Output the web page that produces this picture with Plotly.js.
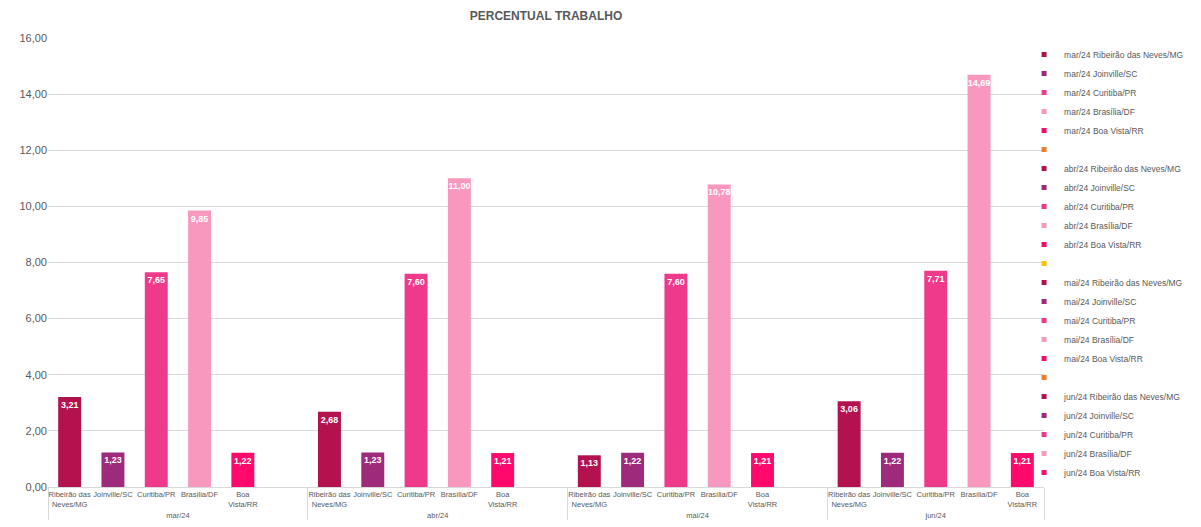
<!DOCTYPE html>
<html>
<head>
<meta charset="utf-8">
<script src="https://cdn.plot.ly/plotly-3.0.1.min.js"></script>
<style>html,body{margin:0;padding:0;background:#fff}#chart{width:1201px;height:527px}</style>
</head>
<body>
<div id="chart"></div>
<script>
var months = ["mar/24", "abr/24", "mai/24", "jun/24"];
var cities = ["Ribeirão das Neves/MG", "Joinville/SC", "Curitiba/PR", "Brasília/DF", "Boa Vista/RR"];
var cityTicks = ["Ribeirão das<br>Neves/MG", "Joinville/SC", "Curitiba/PR", "Brasília/DF", "Boa<br>Vista/RR"];
var mar24 = [3.21, 1.23, 7.65, 9.85, 1.22];
var abr24 = [2.68, 1.23, 7.60, 11.00, 1.21];
var mai24 = [1.13, 1.22, 7.60, 10.78, 1.21];
var jun24 = [3.06, 1.22, 7.71, 14.69, 1.21];
var values = [mar24, abr24, mai24, jun24];
var cityColors = ["#B3124F", "#9E2A7C", "#EF3A8B", "#F898BE", "#FF0A6C"];
var blankColors = ["#ED7D31", "#FFC000", "#ED7D31"];
var blankTick = " ";

var FONT = "'Liberation Sans Narrow', 'Arial Narrow', 'Liberation Sans', Arial, sans-serif";
var bars = [];
var legendItems = [];
function addLegend(name, color) {
  legendItems.push({
    type: "scatter",
    mode: "markers",
    name: name,
    xaxis: "x2",
    yaxis: "y",
    x: [0],
    y: [null],
    marker: { symbol: "square", size: 5, color: color },
    hoverinfo: "skip"
  });
}
months.forEach(function (m, mi) {
  cities.forEach(function (c, ci) {
    bars.push({
      type: "bar",
      name: m + " " + c,
      showlegend: false,
      x: [[m], [cityTicks[ci]]],
      y: [values[mi][ci]],
      width: 0.53,
      marker: { color: cityColors[ci] },
      texttemplate: "%{y:.2f}",
      textposition: "inside",
      insidetextanchor: "end",
      textangle: 0,
      constraintext: "none",
      textfont: { color: "#ffffff", size: 9, family: "'Liberation Sans', Arial, sans-serif", weight: "bold" },
      hoverinfo: "name+y"
    });
    addLegend(m + " " + c, cityColors[ci]);
  });
  if (mi < blankColors.length) {
    bars.push({
      type: "bar",
      name: "",
      showlegend: false,
      x: [[m], [blankTick]],
      y: [null],
      width: 0.53,
      marker: { color: blankColors[mi] },
      hoverinfo: "skip"
    });
    addLegend("", blankColors[mi]);
  }
});

var layout = {
  width: 1201,
  height: 527,
  paper_bgcolor: "#ffffff",
  plot_bgcolor: "#ffffff",
  separators: ",.",
  barmode: "overlay",
  margin: { l: 48, r: 153, t: 38, b: 40 },
  title: {
    text: "<b>PERCENTUAL TRABALHO</b>",
    font: { family: "'Liberation Sans', Arial, sans-serif", size: 12, color: "#595959" },
    x: 0.5, xref: "paper", xanchor: "center",
    y: 0.9696, yref: "container", yanchor: "middle"
  },
  xaxis: {
    type: "multicategory",
    color: "#595959",
    showline: true,
    linecolor: "#D9D9D9",
    linewidth: 1,
    ticks: "",
    tickangle: 0,
    showgrid: false,
    showdividers: true,
    dividercolor: "#D9D9D9",
    dividerwidth: 1,
    tickfont: { family: FONT, size: 7.5, color: "#595959" }
  },
  xaxis2: {
    overlaying: "x",
    visible: false,
    range: [0, 1]
  },
  yaxis: {
    range: [0, 16],
    dtick: 2,
    tickformat: ".2f",
    showgrid: true,
    gridcolor: "#D9D9D9",
    gridwidth: 1,
    zeroline: false,
    showline: false,
    ticks: "",
    tickfont: { family: "'Liberation Sans', Arial, sans-serif", size: 11, color: "#595959" }
  },
  legend: {
    x: 0.98, xanchor: "left",
    y: 0, yanchor: "bottom",
    font: { family: FONT, size: 8.5, color: "#595959" },
    bgcolor: "rgba(0,0,0,0)",
    tracegroupgap: 0,
    itemclick: false
  },
  showlegend: true
};

Plotly.newPlot("chart", bars.concat(legendItems), layout, { displayModeBar: false, staticPlot: true });
</script>
</body>
</html>
